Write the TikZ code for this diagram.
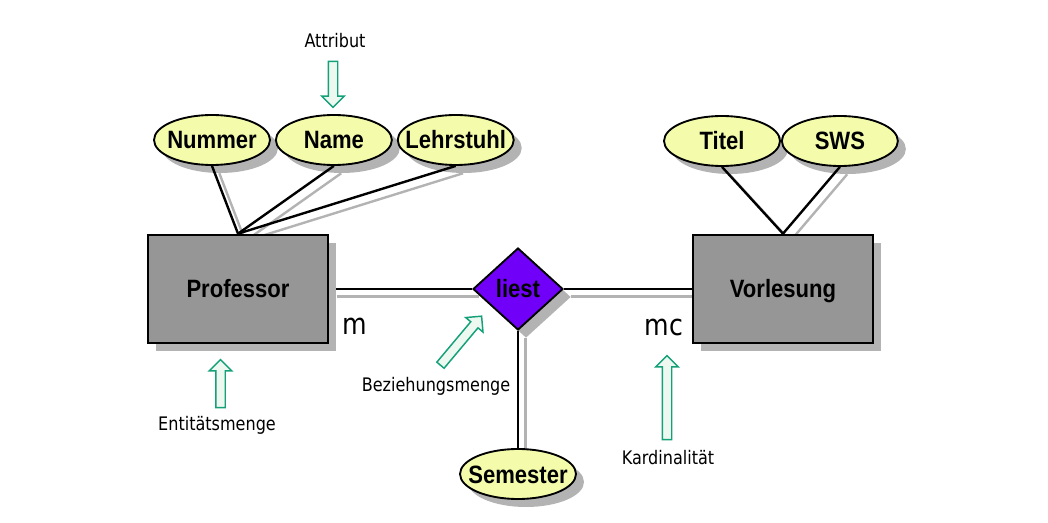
\documentclass[tikz,border=0pt]{standalone}
\usepackage{fontspec}
\newfontfamily\erfont{Liberation Sans}[FakeStretch=0.88]
\newfontfamily\notefont{DejaVu Sans}[FakeStretch=0.86]
\usepackage{tikz}
\usetikzlibrary{
  positioning, shapes.geometric, shapes.arrows, shadows, backgrounds
}
\definecolor{ergray}{HTML}{969696}
\definecolor{eryellow}{HTML}{F4FCAC}
\definecolor{erpurple}{HTML}{7000F8}
\definecolor{ershadow}{HTML}{B3B3B3}
\definecolor{ergreen}{HTML}{14A078}
\definecolor{erpale}{HTML}{EDF8F1}

\begin{document}
\begin{tikzpicture}[
  x=0.75pt, y=-0.75pt,
  ershade/.style={drop shadow={shadow xshift=6pt, shadow yshift=-6pt,
    fill=ershadow, opacity=1}},
  entity/.style={
    rectangle, draw=black, line width=2pt, fill=ergray,
    minimum width=135pt, minimum height=81pt,
    text height=13.5pt, text depth=0pt,
    font=\erfont\bfseries\fontsize{18.8pt}{20pt}\selectfont, ershade
  },
  attrib/.style={
    ellipse, draw=black, line width=1.4pt, fill=eryellow,
    minimum width=87pt, minimum height=37.5pt, inner xsep=-10pt, inner ysep=0pt,
    text height=13.5pt, text depth=0pt,
    font=\erfont\bfseries\fontsize{18.8pt}{20pt}\selectfont, ershade
  },
  relation/.style={
    diamond, draw=black, line width=1.4pt, fill=erpurple, aspect=1.1,
    minimum width=67.5pt, minimum height=61.5pt, inner sep=0pt,
    font=\erfont\bfseries\fontsize{18.8pt}{20pt}\selectfont, ershade
  },
  pointer/.style={
    single arrow, draw=ergreen, fill=erpale, line width=1.1pt,
    inner xsep=0pt, inner ysep=3pt,
    single arrow head extend=4.9pt, single arrow tip angle=90
  },
  note/.style={font=\notefont\fontsize{14pt}{16pt}\selectfont, inner sep=0pt},
  card/.style={font=\notefont\fontsize{22pt}{24pt}\selectfont, inner sep=0pt},
  conn/.style={draw=black, line width=1.8pt},
  connshadow/.style={draw=ershadow, line width=1.8pt,
    transform canvas={xshift=5.5pt, yshift=-5.5pt}},
]
\useasboundingbox (0,0) rectangle (1048,523);

% Entitaeten und Beziehung
\node[entity] (prof) at (238,289) {Professor};
\node[relation] (liest) at (518,289) {liest};
\node[entity] (vorl) at (783,289) {Vorlesung};

% Attribute
\node[attrib] (nummer) at (212,140) {Nummer};
\node[attrib, right=3pt of nummer] (name) {Name};
\node[attrib, right=3pt of name] (lehrstuhl) {Lehrstuhl};
\node[attrib] (titel) at (722,141) {Titel};
\node[attrib, right=0pt of titel] (sws) {SWS};
\node[attrib] (semester) at (518,474) {Semester};

% Kardinalitaeten
\node[card] (m) at (355,326) {m};
\node[card] (mc) at (664,327) {mc};

% Hinweise
\node[note] (attrnote) at (335,41) {Attribut};
\node[note] (entnote) at (217,425) {Entitätsmenge};
\node[note] (beznote) at (436,386) {Beziehungsmenge};
\node[note] (kardnote) at (668,458) {Kardinalität};
\node[pointer, minimum height=34.5pt, rotate=-90] (attrptr) at (333,82) {};
\node[pointer, minimum height=36pt, rotate=90] (entptr) at (220.5,386) {};
\node[pointer, minimum height=48pt, rotate=50] (bezptr) at (459.5,342.5) {};
\node[pointer, minimum height=63pt, rotate=90] (kardptr) at (667,400) {};

% Linien
\begin{scope}[on background layer]
  \foreach \a/\b in {prof.east/liest.west, liest.east/vorl.west,
      liest.south/semester.north, nummer.south/prof.north,
      name.south/prof.north, lehrstuhl.south/prof.north,
      titel.south/vorl.north, sws.south/vorl.north}
    \draw[connshadow] (\a) -- (\b);
  \draw[conn] (prof) -- (liest);
  \draw[conn] (liest) -- (vorl);
  \draw[conn] (liest) -- (semester);
\end{scope}
\foreach \a/\b in {nummer/prof, name/prof, lehrstuhl/prof, titel/vorl, sws/vorl}
  \draw[conn] (\a.south) -- (\b.north);

\end{tikzpicture}
\end{document}
